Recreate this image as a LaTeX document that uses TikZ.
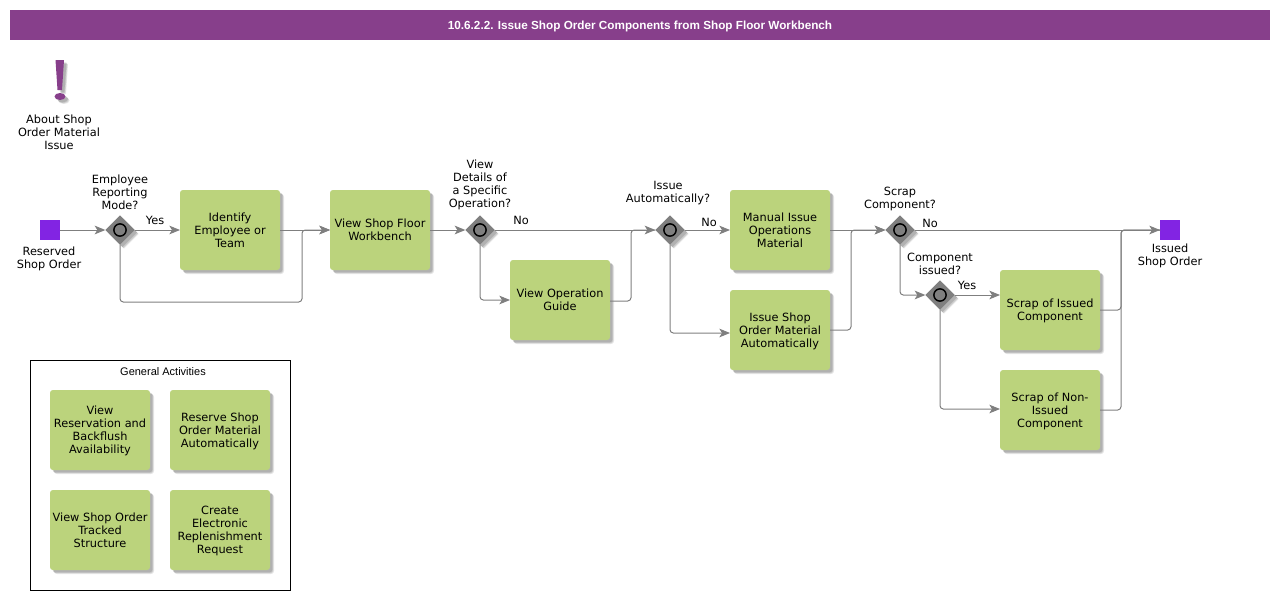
\documentclass[tikz,border=0pt]{standalone}
\usepackage{fontspec}
\setmainfont{DejaVu Sans}
\newfontfamily\arialfont{Liberation Sans}
\usetikzlibrary{shapes.geometric, arrows.meta, positioning, shadows}

\definecolor{barpurple}{HTML}{873F8B}
\definecolor{boxgreen}{HTML}{BBD37C}
\definecolor{eventpurple}{HTML}{8224E3}
\definecolor{gatewaygray}{HTML}{7F7F7F}
\definecolor{linegray}{HTML}{7F7F7F}

\begin{document}
\begin{tikzpicture}[
    x=0.75pt, y=-0.75pt, % one unit is one pixel, y runs downwards
    softshadow/.style={
        general shadow={shadow xshift=3pt, shadow yshift=-3pt, fill=black, opacity=0.1},
        general shadow={shadow xshift=2.4pt, shadow yshift=-2.4pt, fill=black, opacity=0.12},
        general shadow={shadow xshift=1.8pt, shadow yshift=-1.8pt, fill=black, opacity=0.12}},
    box/.style={rectangle, rounded corners=2.2pt, fill=boxgreen, softshadow, minimum width=75pt, minimum height=60pt, inner sep=0pt, outer sep=0pt, align=center, text depth=0pt, font=\fontsize{8.5}{9.75}\selectfont},
    event/.style={rectangle, fill=eventpurple, minimum size=15pt, inner sep=0pt, outer sep=0pt},
    gateway/.style={diamond, aspect=1, fill=gatewaygray, softshadow, minimum size=22pt, inner sep=0pt, outer sep=0pt,
        path picture={\draw[black, line width=1.1pt] (path picture bounding box.center) circle (4.6pt);}},
    caption/.style={align=center, inner sep=0pt, text depth=0pt, font=\fontsize{8.5}{9.75}\selectfont},
    arrow/.style={-{Stealth[length=8pt, width=6.5pt, inset=2pt]}, draw=linegray, line width=0.75pt, rounded corners=2.5pt},
    feed/.style={draw=linegray, line width=0.75pt, rounded corners=2.5pt}
]
\useasboundingbox (0,0) rectangle (1280,600);

% Title bar
\node (title) at (640,25) [rectangle, fill=barpurple, minimum width=945pt, minimum height=22.5pt, inner sep=0pt, text=white, text depth=0pt, font=\arialfont\fontsize{8.8}{11}\selectfont\bfseries] {10.6.2.2. Issue Shop Order Components from Shop Floor Workbench};

% Exclamation mark
\fill[barpurple, softshadow] (55.5,60) -- (64,60) -- (62,90) -- (57.5,90) -- cycle;
\fill[barpurple, softshadow] (60,96.5) ellipse (5.5 and 3.5);
\node (about) at (59,132) [caption] {About Shop\\Order Material\\Issue};

% Events
\node (start) at (50,230) [event] {};
\node (finish) at (1170,230) [event] {};
\node (start_text) at (49,257.5) [caption] {Reserved\\Shop Order};
\node (finish_text) at (1170,254.5) [caption] {Issued\\Shop Order};

% Gateways and their questions
\node (gw_mode) at (120,230) [gateway] {};
\node (gw_details) at (480,230) [gateway] {};
\node (gw_auto) at (670,230) [gateway] {};
\node (gw_scrap) at (900,230) [gateway] {};
\node (gw_issued) at (940,295) [gateway] {};
\node (q_mode) at (120,192) [caption] {Employee\\Reporting\\Mode?};
\node (q_details) at (480,183.5) [caption] {View\\Details of\\a Specific\\Operation?};
\node (q_auto) at (668,191.5) [caption] {Issue\\Automatically?};
\node (q_scrap) at (900,197.5) [caption] {Scrap\\Component?};
\node (q_issued) at (940,263.5) [caption] {Component\\issued?};

% Activities
\node (identify) at (230,230) [box] {Identify\\Employee or\\Team};
\node (workbench) [box, right=37.5pt of identify] {View Shop Floor\\Workbench};
\node (guide) at (560,300) [box] {View Operation\\Guide};
\node (manual) at (780,230) [box] {Manual Issue\\Operations\\Material};
\node (automatic) [box, below=15pt of manual] {Issue Shop\\Order Material\\Automatically};
\node (scrap_issued) at (1050,310) [box] {Scrap of Issued\\Component};
\node (scrap_non) [box, below=15pt of scrap_issued] {Scrap of Non-\\Issued\\Component};

% General activities frame
\node (general) at (160,475) [rectangle, draw=black, line width=0.75pt, minimum width=195pt, minimum height=172.5pt] {};
\node (general_text) at (163,372) [inner sep=0pt, text depth=0pt, font=\arialfont\fontsize{8.25}{10}\selectfont] {General Activities};
\node (reservation) at (100,430) [box] {View\\Reservation and\\Backflush\\Availability};
\node (reserve) [box, right=15pt of reservation] {Reserve Shop\\Order Material\\Automatically};
\node (tracked) [box, below=15pt of reservation] {View Shop Order\\Tracked\\Structure};
\node (replenish) [box, right=15pt of tracked] {Create\\Electronic\\Replenishment\\Request};

% Branch labels
\node (yes_mode) at (155,220) [caption] {Yes};
\node (no_details) at (521,220) [caption] {No};
\node (no_auto) at (709,222) [caption] {No};
\node (no_scrap) at (930,223) [caption] {No};
\node (yes_issued) at (967,285) [caption] {Yes};

% Bends of the routed lines
\coordinate (bend_mode) at (302,302);
\coordinate (join_mode) at (302,230);
\coordinate (bend_guide) at (631,301);
\coordinate (join_guide) at (631,230);
\coordinate (bend_auto) at (851,330);
\coordinate (join_auto) at (851,230);
\coordinate (bend_issued) at (1121,310);
\coordinate (bend_non) at (1121,410);
\coordinate (join_end) at (1121,230);

% Connections
\draw [arrow] (start) -- (gw_mode);
\draw [arrow] (gw_mode) -- (identify);
\draw [arrow] (identify) -- (workbench);
\draw [arrow] (gw_mode) |- (bend_mode) -- (join_mode) -- (workbench);
\draw [arrow] (workbench) -- (gw_details);
\draw [arrow] (gw_details) -- (gw_auto);
\draw [arrow] (gw_details) |- (guide);
\draw [feed] (guide.east |- bend_guide) -- (bend_guide) -- (join_guide) -- (gw_auto);
\draw [arrow] (gw_auto) -- (manual);
\draw [arrow] (gw_auto) |- ([yshift=-2.25pt]automatic.west);
\draw [arrow] (manual) -- (gw_scrap);
\draw [arrow] (automatic) -- (bend_auto) -- (join_auto) -- (gw_scrap);
\draw [arrow] (gw_scrap) -- (finish);
\draw [arrow] (gw_scrap) |- (gw_issued);
\draw [arrow] (gw_issued) -- (gw_issued -| scrap_issued.west);
\draw [arrow] (gw_issued) |- ([yshift=0.75pt]scrap_non.west);
\draw [feed] (scrap_issued) -- (bend_issued) -- (join_end) -- (finish);
\draw [feed] (scrap_non) -- (bend_non) -- (join_end) -- (finish);

\end{tikzpicture}
\end{document}
